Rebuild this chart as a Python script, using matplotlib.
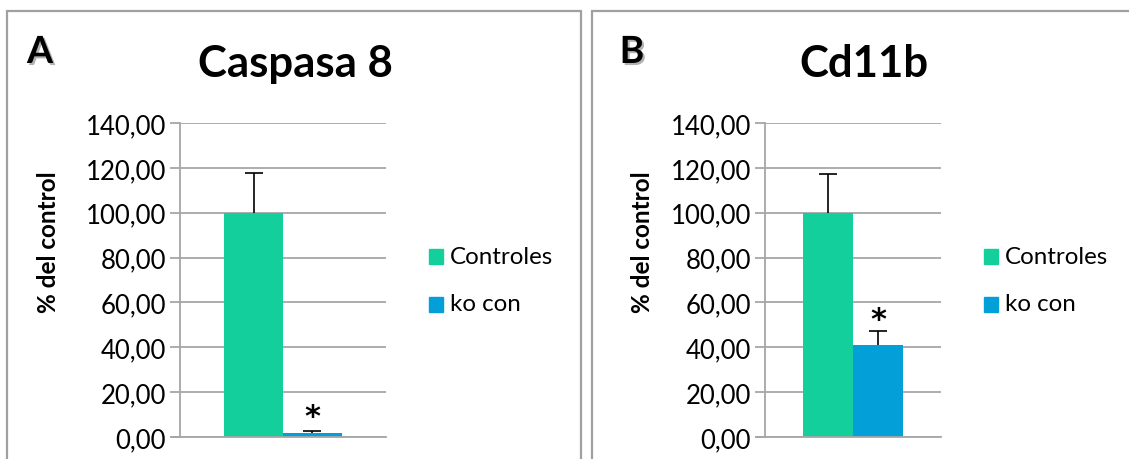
import matplotlib.pyplot as plt
import matplotlib.patheffects as pe
from matplotlib.patches import Rectangle

plt.rcParams['font.family'] = ['Lato', 'DejaVu Sans']

# group data, % of control
series = ['Controles', 'ko con']
caspasa_mean = [100.0, 1.8]
caspasa_err = [17.7, 0.7]
caspasa_star = 9.0
cd11b_mean = [100.0, 41.0]
cd11b_err = [17.3, 6.4]
cd11b_star = 52.2
yticks = [0, 20, 40, 60, 80, 100, 120, 140]

colors = ['#12cf9b', '#039fd9']
grid_col = '#a6a6a6'

W, H = 1129, 460
fig = plt.figure(figsize=(W / 100, H / 100), dpi=100)


def px_axes(x0, y0, x1, y1):
    # pixel box (top-left origin) -> figure fraction axes
    return fig.add_axes([x0 / W, 1 - y1 / H, (x1 - x0) / W, (y1 - y0) / H])


def panel(box, ax_box, letter, letter_xy, title, title_x, ylab_x, means, errs, star_y, legend_x):
    # outer frame of the panel
    bx0, by0, bx1, by1 = box
    fig.patches.append(Rectangle((bx0 / W, 1 - by1 / H), (bx1 - bx0) / W, (by1 - by0) / H,
                                 transform=fig.transFigure, fill=False,
                                 edgecolor='#a0a0a0', linewidth=1.6, clip_on=False))

    ax = px_axes(*ax_box)
    width = 0.286
    xs = [-width / 2, width / 2]
    for i in range(2):
        ax.bar(xs[i], means[i], width=width, color=colors[i], zorder=2, label=series[i])
        eb = ax.errorbar(xs[i], means[i], yerr=[[0], [errs[i]]], fmt='none',
                         ecolor='black', elinewidth=1.2, capsize=6.5, capthick=1.2, zorder=3)
        # only the upper whisker carries a cap
        eb[1][0].set_visible(False)
    ax.text(xs[1], star_y, '*', ha='center', va='center', fontsize=22,
            fontweight='bold', family='DejaVu Sans', zorder=4)

    ax.set_xlim(-0.5, 0.5)
    ax.set_ylim(0, 140)
    ax.set_yticks(yticks)
    ax.set_yticklabels([f'{v:.2f}'.replace('.', ',') for v in yticks], fontsize=18.5)
    ax.set_xticks([])
    ax.yaxis.grid(True, color=grid_col, linewidth=1.3, zorder=0)
    ax.set_axisbelow(True)
    ax.tick_params(axis='y', length=7, width=1.3, color=grid_col, pad=3)
    for s in ['top', 'right']:
        ax.spines[s].set_visible(False)
    ax.spines['left'].set_color(grid_col)
    ax.spines['left'].set_linewidth(1.3)
    ax.spines['bottom'].set_color(grid_col)
    ax.spines['bottom'].set_linewidth(1.3)
    ax.spines['bottom'].set_bounds(-0.5 - 8 / (ax_box[2] - ax_box[0]), 0.5)

    fig.text(ylab_x / W, 1 - 242 / H, '% del control', rotation=90, ha='center', va='center',
             fontsize=17.5, fontweight='bold')
    fig.text(title_x / W, 1 - 64 / H, title, ha='center', va='center',
             fontsize=31.5, fontweight='bold')
    fig.text(letter_xy[0] / W, 1 - letter_xy[1] / H, letter, ha='center', va='center',
             fontsize=27, fontweight='bold',
             path_effects=[pe.withSimplePatchShadow(offset=(1.5, -1.5), shadow_rgbFace='#808080', alpha=0.6)])

    # legend drawn as swatches plus text
    for i, yy in enumerate([257, 305]):
        fig.patches.append(Rectangle((legend_x / W, 1 - (yy + 7.5) / H), 14 / W, 15 / H,
                                     transform=fig.transFigure, color=colors[i]))
        fig.text((legend_x + 21) / W, 1 - yy / H, series[i], ha='left', va='center', fontsize=17.4)


panel((7, 12, 581, 470), (180, 124, 386, 438), 'A', (40, 53), 'Caspasa 8', 295, 48,
      caspasa_mean, caspasa_err, caspasa_star, 429)
panel((592, 12, 1140, 470), (765, 124, 941, 438), 'B', (632, 53), 'Cd11b', 864, 643,
      cd11b_mean, cd11b_err, cd11b_star, 984)

fig.savefig('out.png', dpi=100)
